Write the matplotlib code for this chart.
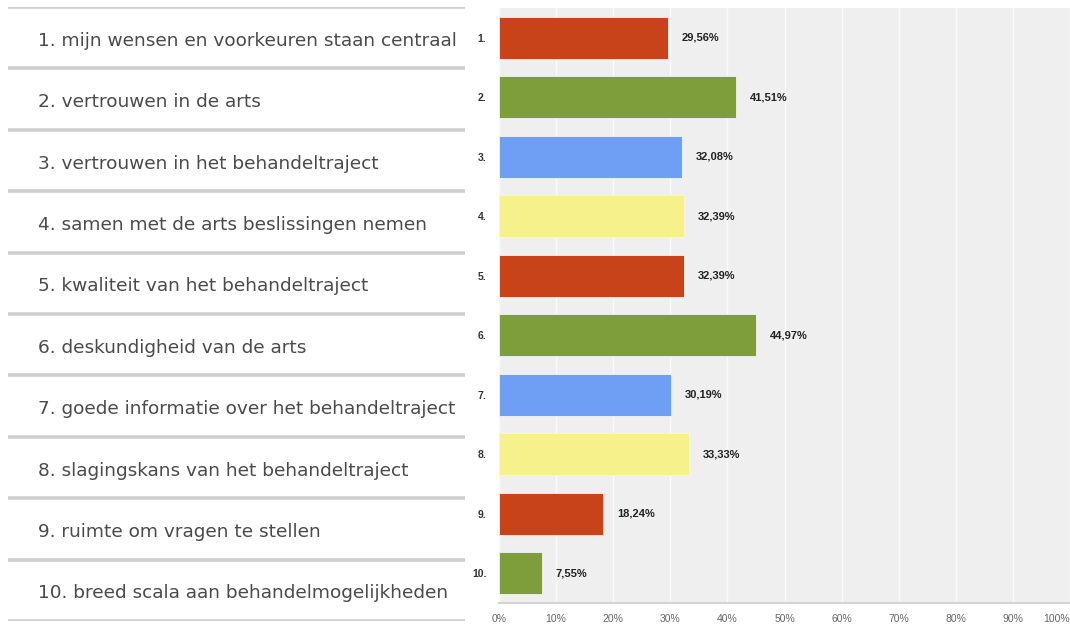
import matplotlib
matplotlib.use('Agg')
import matplotlib.pyplot as plt
import numpy as np

# survey answers and their shares (percent)
labels = ['1. mijn wensen en voorkeuren staan centraal',
          '2. vertrouwen in de arts',
          '3. vertrouwen in het behandeltraject',
          '4. samen met de arts beslissingen nemen',
          '5. kwaliteit van het behandeltraject',
          '6. deskundigheid van de arts',
          '7. goede informatie over het behandeltraject',
          '8. slagingskans van het behandeltraject',
          '9. ruimte om vragen te stellen',
          '10. breed scala aan behandelmogelijkheden']
numbers = ['1.', '2.', '3.', '4.', '5.', '6.', '7.', '8.', '9.', '10.']
values = [29.56, 41.51, 32.08, 32.39, 32.39, 44.97, 30.19, 33.33, 18.24, 7.55]
xticks = [0, 10, 20, 30, 40, 50, 60, 70, 80, 90, 100]

palette = ['#c8431a', '#7d9e3b', '#6e9ff5', '#f6f18a']
colors = [palette[i % 4] for i in range(len(values))]

W, H = 1070, 631
fig = plt.figure(figsize=(W / 100, H / 100), dpi=100)
fig.patch.set_facecolor('white')
plt.rcParams['font.family'] = ['Liberation Sans', 'DejaVu Sans']

# left panel with the answer texts
axl = fig.add_axes([0, 10 / H, 470 / W, 614 / H])
axl.set_xlim(0, 470)
axl.set_ylim(len(labels), 0)
axl.axis('off')
for i in range(len(labels) + 1):
    axl.plot([8, 465], [i, i], color='#cfcfcf', lw=2.6, solid_capstyle='butt')
for i, lab in enumerate(labels):
    axl.text(38, i + 0.55, lab, fontsize=13.3, color='#4a4a4a', va='center', ha='left',
             family='DejaVu Sans')

# bar chart
ax = fig.add_axes([499 / W, 28 / H, 571 / W, 595 / H])
ax.set_facecolor('#efefef')
y = np.arange(len(values))
ax.barh(y, values, height=0.7, color=colors, edgecolor='#f4f4f4', linewidth=0.6, zorder=3)
ax.set_xlim(0, 100)
ax.set_ylim(len(values) - 0.5, -0.5)
ax.set_xticks(xticks)
ax.set_xticklabels([f'{t}%' for t in xticks], fontsize=7.5, color='#666666')
ax.get_xticklabels()[-1].set_horizontalalignment('right')
ax.set_yticks(y)
ax.set_yticklabels(numbers, fontsize=7.5, fontweight='bold', color='#333333')
ax.tick_params(axis='both', length=0)
ax.tick_params(axis='y', pad=9)
ax.tick_params(axis='x', pad=8)
ax.grid(axis='x', color='#fafafa', lw=1.0, zorder=1)
for s in ['top', 'right', 'left']:
    ax.spines[s].set_visible(False)
ax.spines['bottom'].set_color('#d4d4d4')
ax.spines['bottom'].set_linewidth(1.5)

for yi, v in zip(y, values):
    ax.text(v + 2.4, yi, f'{v:.2f}%'.replace('.', ','), fontsize=8, fontweight='bold',
            color='#222222', va='center', ha='left', zorder=4)

fig.savefig('out.png', dpi=100)
